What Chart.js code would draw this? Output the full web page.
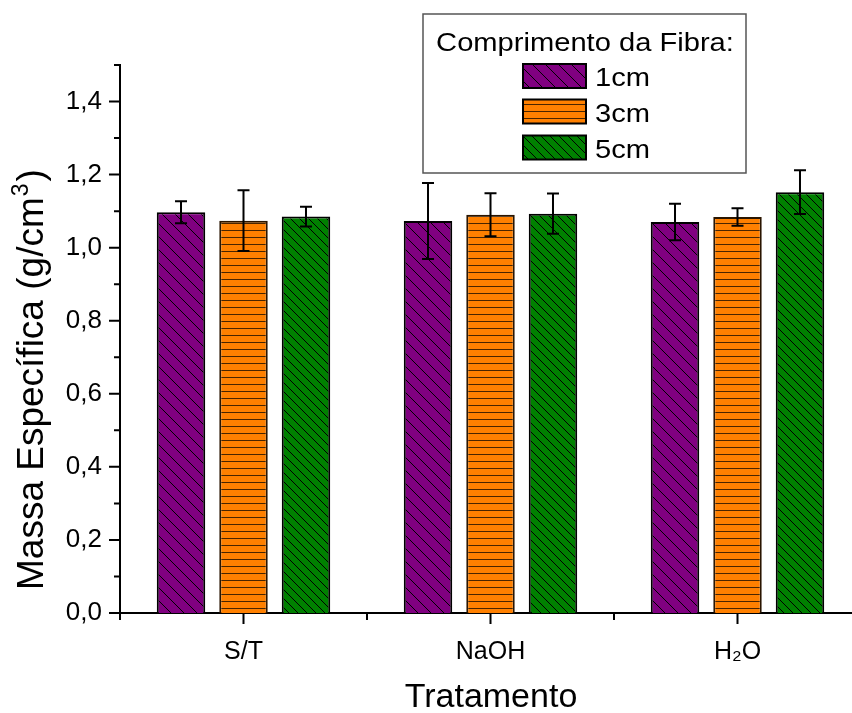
<!DOCTYPE html>
<html>
<head>
<meta charset="utf-8">
<title>Massa Específica por Tratamento</title>
<script src="https://cdn.jsdelivr.net/npm/chart.js@4.4.1/dist/chart.umd.min.js"></script>
<style>
  html, body { margin: 0; padding: 0; background: #fff; overflow: hidden; }
  #wrap { width: 862px; height: 713px; }
</style>
</head>
<body>
<div id="wrap"><canvas id="densityChart" width="862" height="713"></canvas></div>
<script>
const categories = ["S/T", "NaOH", "H₂O"];
const seriesLabels = ["1cm", "3cm", "5cm"];

const density1cm = [1.097, 1.073, 1.070];
const density3cm = [1.074, 1.090, 1.084];
const density5cm = [1.085, 1.093, 1.152];

const error1cm = [0.030, 0.104, 0.050];
const error3cm = [0.083, 0.059, 0.024];
const error5cm = [0.027, 0.055, 0.060];

const FONT = "'Liberation Sans', Arial, sans-serif";

const canvas = document.getElementById("densityChart");
const mainCtx = canvas.getContext("2d");

function hatchPattern(fill, kind, step, lineColor) {
  const tile = document.createElement("canvas");
  tile.width = step;
  tile.height = step;
  const c = tile.getContext("2d");
  c.fillStyle = fill;
  c.fillRect(0, 0, step, step);
  c.strokeStyle = lineColor;
  c.lineWidth = 1;
  c.beginPath();
  if (kind === "horizontal") {
    c.moveTo(0, step - 0.5);
    c.lineTo(step, step - 0.5);
  } else {
    for (let k = -1; k <= 1; k++) {
      c.moveTo(k * step, 0);
      c.lineTo(k * step + step, step);
    }
  }
  c.stroke();
  return mainCtx.createPattern(tile, "repeat");
}

const purpleHatch = hatchPattern("#800080", "diagonal", 13, "#000");
const orangeHatch = hatchPattern("#ff8000", "horizontal", 7, "#4a2500");
const greenHatch = hatchPattern("#008000", "diagonal", 9, "#000");

function isMajor(value) {
  return Math.round(value * 10) % 2 === 0;
}

function stretchedText(ctx, text, x, y, sx, align) {
  ctx.save();
  ctx.translate(x, y);
  ctx.scale(sx, 1);
  ctx.textAlign = align;
  ctx.fillText(text, 0, 0);
  ctx.restore();
}

// axis ticks (major + minor), error bars, legend box and axis titles
const decorations = {
  id: "decorations",
  afterDatasetsDraw(chart) {
    const { ctx, scales } = chart;
    const y = scales.y;
    ctx.save();
    ctx.strokeStyle = "#000";
    ctx.lineWidth = 2;
    chart.data.datasets.forEach((ds, di) => {
      const meta = chart.getDatasetMeta(di);
      meta.data.forEach((bar, i) => {
        const v = ds.data[i];
        const e = ds.errors[i];
        const top = y.getPixelForValue(v + e);
        const bot = y.getPixelForValue(v - e);
        ctx.beginPath();
        ctx.moveTo(bar.x, top);
        ctx.lineTo(bar.x, bot);
        ctx.moveTo(bar.x - 6, top);
        ctx.lineTo(bar.x + 6, top);
        ctx.moveTo(bar.x - 6, bot);
        ctx.lineTo(bar.x + 6, bot);
        ctx.stroke();
      });
    });
    ctx.restore();
  },
  afterDraw(chart) {
    const { ctx, chartArea, scales } = chart;
    const x = scales.x;
    const y = scales.y;

    ctx.save();
    ctx.strokeStyle = "#000";
    ctx.lineWidth = 2;
    ctx.beginPath();
    y.ticks.forEach((t, i) => {
      const py = y.getPixelForTick(i);
      const len = isMajor(t.value) ? 11 : 6;
      ctx.moveTo(chartArea.left, py);
      ctx.lineTo(chartArea.left - len, py);
    });
    const half = (x.getPixelForValue(1) - x.getPixelForValue(0)) / 2;
    categories.forEach((c, i) => {
      const px = x.getPixelForValue(i);
      ctx.moveTo(px, chartArea.bottom);
      ctx.lineTo(px, chartArea.bottom + 11);
      ctx.moveTo(px - half, chartArea.bottom);
      ctx.lineTo(px - half, chartArea.bottom + 7);
      if (i === categories.length - 1) {
        ctx.moveTo(px + half, chartArea.bottom);
        ctx.lineTo(px + half, chartArea.bottom + 7);
      }
    });
    ctx.stroke();

    // legend
    ctx.fillStyle = "#fff";
    ctx.fillRect(423, 14, 323, 159);
    ctx.strokeStyle = "#555";
    ctx.lineWidth = 1.5;
    ctx.strokeRect(423, 14, 323, 159);
    ctx.fillStyle = "#000";
    ctx.font = "26px " + FONT;
    ctx.textBaseline = "alphabetic";
    stretchedText(ctx, "Comprimento da Fibra:", 585, 51, 1.12, "center");
    const rowTops = [64, 99.5, 135.5];
    chart.data.datasets.forEach((ds, di) => {
      ctx.fillStyle = ds.backgroundColor;
      ctx.fillRect(523, rowTops[di], 63, 24);
      ctx.strokeStyle = "#000";
      ctx.lineWidth = 2;
      ctx.strokeRect(523, rowTops[di], 63, 24);
      ctx.fillStyle = "#000";
      stretchedText(ctx, ds.label, 595, rowTops[di] + 22, 1.12, "left");
    });

    // axis titles
    ctx.font = "34px " + FONT;
    ctx.textAlign = "center";
    ctx.fillText("Tratamento", 491, 707);

    ctx.translate(43, 590);
    ctx.rotate(-Math.PI / 2);
    ctx.textAlign = "left";
    ctx.font = "37px " + FONT;
    const main = "Massa Específica (g/cm";
    ctx.fillText(main, 0, 0);
    const w = ctx.measureText(main).width;
    ctx.font = "23px " + FONT;
    ctx.fillText("3", w + 1, -15);
    const w3 = ctx.measureText("3").width;
    ctx.font = "37px " + FONT;
    ctx.fillText(")", w + w3 + 3, 0);
    ctx.restore();
  }
};

new Chart(canvas, {
  type: "bar",
  data: {
    labels: categories,
    datasets: [
      {
        label: seriesLabels[0],
        data: density1cm,
        errors: error1cm,
        backgroundColor: purpleHatch,
        borderColor: "#000",
        borderWidth: 2
      },
      {
        label: seriesLabels[1],
        data: density3cm,
        errors: error3cm,
        backgroundColor: orangeHatch,
        borderColor: "#2a1500",
        borderWidth: 2
      },
      {
        label: seriesLabels[2],
        data: density5cm,
        errors: error5cm,
        backgroundColor: greenHatch,
        borderColor: "#000",
        borderWidth: 2
      }
    ]
  },
  options: {
    responsive: false,
    animation: false,
    events: [],
    layout: {
      padding: { top: 65, right: 1, left: 0, bottom: 0 }
    },
    datasets: {
      bar: {
        categoryPercentage: 0.759,
        barPercentage: 0.776
      }
    },
    plugins: {
      legend: { display: false },
      tooltip: { enabled: false }
    },
    scales: {
      x: {
        offset: true,
        grid: { display: false, drawTicks: false },
        border: { display: true, color: "#000", width: 2 },
        ticks: {
          color: "#000",
          padding: 24,
          font: { family: FONT, size: 25 }
        },
        afterFit(scale) {
          scale.height = 100;
        }
      },
      y: {
        min: 0,
        max: 1.5,
        grid: { display: false, drawTicks: false },
        border: { display: true, color: "#000", width: 2 },
        ticks: {
          stepSize: 0.1,
          maxTicksLimit: 20,
          autoSkip: false,
          includeBounds: true,
          color: "#000",
          padding: 18,
          font: { family: FONT, size: 26 },
          callback: (value) => isMajor(value) ? value.toFixed(1).replace(".", ",") : ""
        },
        afterFit(scale) {
          scale.width = 120;
        }
      }
    }
  },
  plugins: [decorations]
});
</script>
</body>
</html>
